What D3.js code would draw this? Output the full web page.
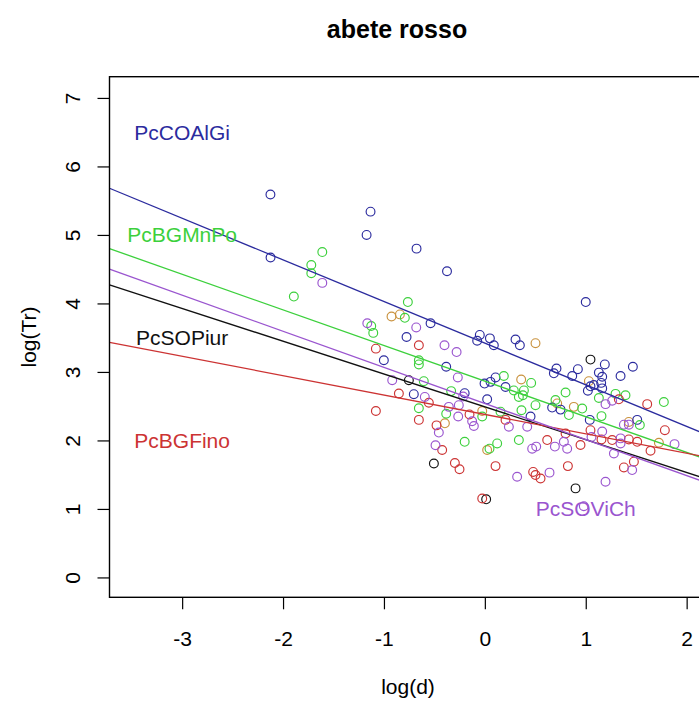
<!DOCTYPE html>
<html>
<head>
<meta charset="utf-8">
<script src="https://cdn.jsdelivr.net/npm/d3@7"></script>
<style>
  html, body { margin: 0; padding: 0; background: #fff; }
  svg { display: block; }
  text { font-family: "Liberation Sans", Arial, sans-serif; }
</style>
</head>
<body>
<svg id="chart" width="699" height="702"></svg>
<script>
// Stand groups for Norway spruce (abete rosso)
const groups = ["PcCOAlGi", "PcBGMnPo", "PcSOPiur", "PcBGFino", "PcSOViCh"];
const groupColors = ["#2b2b9e", "#3cd03c", "#111111", "#cc3333", "#9a55cf"];

// Fitted log(Tr) = a + b * log(d) for each group
const intercepts = [3.42, 2.866, 2.49, 2.38, 2.54];
const slopes = [-0.608, -0.520, -0.479, -0.283, -0.527];

// Label anchor (log(d), log(Tr)) for each group name
const labelX = [-3, -3, -3, -3, 1];
const labelY = [6.5, 5, 3.5, 2, 1];

// Observations [log(d), log(Tr)] per group
const obsCOAlGi = [
  [-2.125, 5.59], [-1.133, 5.34], [-1.172, 5.00], [-2.124, 4.67], [-0.677, 4.80],
  [-0.375, 4.47], [1.0, 4.02], [-0.538, 3.71], [-0.776, 3.51], [-0.05, 3.54],
  [-0.076, 3.455], [0.05, 3.49], [0.089, 3.39], [0.304, 3.474], [0.347, 3.39],
  [-1.001, 3.17], [-0.383, 3.075], [-0.003, 2.83], [0.056, 2.855], [0.106, 2.92],
  [0.205, 2.78], [0.71, 3.05], [0.684, 2.98], [0.922, 3.04], [0.866, 2.94],
  [1.189, 3.11], [1.13, 2.99], [1.163, 2.93], [1.153, 2.84], [1.345, 2.94],
  [1.467, 3.075], [1.047, 2.79], [1.021, 2.725], [1.163, 2.76], [-0.20, 2.69],
  [0.023, 2.60], [0.453, 2.35], [0.667, 2.48], [0.75, 2.45], [1.04, 2.30],
  [1.51, 2.30], [-0.704, 2.675], [1.08, 2.81]
];
const obsBGMnPo = [
  [-1.611, 4.75], [-1.72, 4.56], [-1.72, 4.44], [-1.893, 4.10], [-1.126, 3.67],
  [-1.106, 3.57], [-0.763, 4.02], [-0.793, 3.79], [-0.654, 3.17], [-0.654, 3.11],
  [-0.605, 2.865], [0.188, 2.94], [0.287, 2.73], [0.387, 2.73], [0.459, 2.84],
  [0.337, 2.635], [0.377, 2.66], [0.80, 2.70], [1.295, 2.68], [1.394, 2.66],
  [1.13, 2.62], [1.774, 2.56], [-0.334, 2.72], [-0.654, 2.47], [-0.383, 2.39],
  [-0.026, 2.35], [0.155, 2.42], [0.363, 2.44], [0.502, 2.515], [0.70, 2.59],
  [0.965, 2.465], [0.833, 2.37], [1.156, 2.355], [1.536, 2.225], [-0.20, 1.98],
  [0.122, 1.956], [0.046, 1.88], [0.337, 2.005]
];
const obsSOPiur = [
  [1.047, 3.18], [-0.753, 2.88], [-0.505, 1.664], [0.899, 1.30], [0.013, 1.14]
];
const obsBGFino = [
  [-1.08, 3.34], [-1.08, 2.43], [-0.654, 3.39], [-0.852, 2.685], [-0.555, 2.55],
  [-0.654, 2.30], [-0.479, 2.22], [-0.152, 2.38], [-0.423, 1.86], [-0.297, 1.67],
  [-0.251, 1.58], [0.205, 2.30], [0.618, 2.005], [0.80, 2.10], [1.047, 2.15],
  [0.948, 1.934], [1.328, 2.60], [1.609, 2.53], [1.784, 2.15], [1.156, 2.015],
  [1.262, 2.005], [1.427, 2.015], [1.51, 1.98], [1.642, 1.85], [1.477, 1.69],
  [1.378, 1.606], [0.106, 1.625], [0.479, 1.54], [0.502, 1.494], [0.552, 1.445],
  [0.823, 1.625], [-0.026, 1.153]
];
const obsSOViCh = [
  [-1.611, 4.30], [-1.165, 3.71], [-0.68, 3.65], [-0.40, 3.39], [-0.28, 3.29],
  [-0.918, 2.88], [-0.268, 2.92], [-0.595, 2.635], [-0.215, 2.64], [-0.258, 2.515],
  [-0.357, 2.49], [-0.264, 2.35], [-0.126, 2.28], [-0.109, 2.21], [-0.456, 2.115],
  [-0.489, 1.93], [0.238, 2.20], [0.42, 2.20], [0.469, 1.88], [0.509, 1.91],
  [0.694, 1.91], [0.783, 1.98], [0.816, 1.88], [1.057, 2.05], [1.163, 2.13],
  [1.196, 2.53], [1.262, 2.58], [1.378, 2.23], [1.427, 2.23], [1.345, 2.03],
  [1.345, 1.955], [1.279, 1.81], [1.88, 1.946], [1.46, 1.567], [1.196, 1.397],
  [0.32, 1.47], [0.641, 1.53], [0.981, 1.04]
];
// Further stands plotted without a fitted line
const obsOther = [
  [-0.925, 3.81], [-0.842, 3.84], [0.502, 3.42], [0.36, 2.89], [1.031, 2.865],
  [0.882, 2.49], [0.717, 2.54], [-0.396, 2.25], [-0.026, 2.43], [1.427, 2.27],
  [1.725, 1.966], [0.023, 1.86]
];
const otherColor = "#c9923e";

const obsByGroup = [obsCOAlGi, obsBGMnPo, obsSOPiur, obsBGFino, obsSOViCh];

const xTicks = [-3, -2, -1, 0, 1, 2];
const yTicks = [0, 1, 2, 3, 4, 5, 6, 7];

const svg = d3.select("#chart");
const W = 699, H = 702;
svg.append("rect").attr("width", W).attr("height", H).attr("fill", "#fff");

// plotting region (extends past the right edge of the page)
const plot = { left: 109.5, top: 76.7, bottom: 597.3 };
const xDomain = [-3.72, 2.78];
const unitX = 100.9;
const x = d3.scaleLinear().domain(xDomain)
  .range([plot.left, plot.left + (xDomain[1] - xDomain[0]) * unitX]);
const y = d3.scaleLinear().domain([-0.29, 7.31]).range([plot.bottom, plot.top]);

const [px0, px1] = x.range();

svg.append("defs").append("clipPath").attr("id", "plotClip")
  .append("rect")
  .attr("x", px0).attr("y", plot.top)
  .attr("width", px1 - px0).attr("height", plot.bottom - plot.top);

const body = svg.append("g").attr("clip-path", "url(#plotClip)");

// points
function drawPoints(data, color) {
  body.append("g").selectAll("circle").data(data).enter().append("circle")
    .attr("cx", d => x(d[0])).attr("cy", d => y(d[1]))
    .attr("r", 4.4)
    .attr("fill", "none")
    .attr("stroke", color)
    .attr("stroke-width", 1.15);
}
drawPoints(obsOther, otherColor);
obsByGroup.forEach((data, i) => drawPoints(data, groupColors[i]));

// regression lines over the whole x range
groups.forEach((g, i) => {
  const ends = xDomain.map(v => [v, intercepts[i] + slopes[i] * v]);
  body.append("path")
    .attr("d", d3.line().x(d => x(d[0])).y(d => y(d[1]))(ends))
    .attr("fill", "none")
    .attr("stroke", groupColors[i])
    .attr("stroke-width", 1.3);
});

// group labels
groups.forEach((g, i) => {
  body.append("text")
    .attr("x", x(labelX[i])).attr("y", y(labelY[i]))
    .attr("dy", "0.36em")
    .attr("text-anchor", "middle")
    .attr("font-size", 21)
    .attr("fill", groupColors[i])
    .text(g);
});

// box
svg.append("rect")
  .attr("x", px0).attr("y", plot.top)
  .attr("width", px1 - px0).attr("height", plot.bottom - plot.top)
  .attr("fill", "none").attr("stroke", "#000").attr("stroke-width", 1.4);

// x axis
const xAxis = svg.append("g")
  .attr("transform", `translate(0,${plot.bottom})`)
  .call(d3.axisBottom(x).tickValues(xTicks).tickSize(12).tickPadding(22).tickFormat(d3.format("d")));
xAxis.select(".domain").remove();
xAxis.selectAll("line").attr("stroke", "#000").attr("stroke-width", 1.2);
xAxis.selectAll("text").attr("font-size", 21).attr("fill", "#000")
  .attr("font-family", "Liberation Sans, Arial, sans-serif")
  .text(d => d < 0 ? "-" + Math.abs(d) : String(d));

// y axis, labels parallel to the axis
const yAxis = svg.append("g")
  .attr("transform", `translate(${plot.left},0)`)
  .call(d3.axisLeft(y).tickValues(yTicks).tickSize(12).tickFormat(d3.format("d")));
yAxis.select(".domain").remove();
yAxis.selectAll("line").attr("stroke", "#000").attr("stroke-width", 1.2);
yAxis.selectAll("text")
  .attr("x", null).attr("dy", null)
  .attr("transform", "translate(-30,0) rotate(-90)")
  .attr("text-anchor", "middle")
  .attr("font-size", 21).attr("fill", "#000")
  .attr("font-family", "Liberation Sans, Arial, sans-serif");

// titles
svg.append("text")
  .attr("x", 397).attr("y", 38)
  .attr("text-anchor", "middle")
  .attr("font-size", 25).attr("font-weight", "bold")
  .text("abete rosso");

svg.append("text")
  .attr("x", 408).attr("y", 694)
  .attr("text-anchor", "middle")
  .attr("font-size", 21)
  .text("log(d)");

svg.append("text")
  .attr("transform", `translate(36,${(plot.top + plot.bottom) / 2}) rotate(-90)`)
  .attr("text-anchor", "middle")
  .attr("font-size", 21)
  .text("log(Tr)");
</script>
</body>
</html>
